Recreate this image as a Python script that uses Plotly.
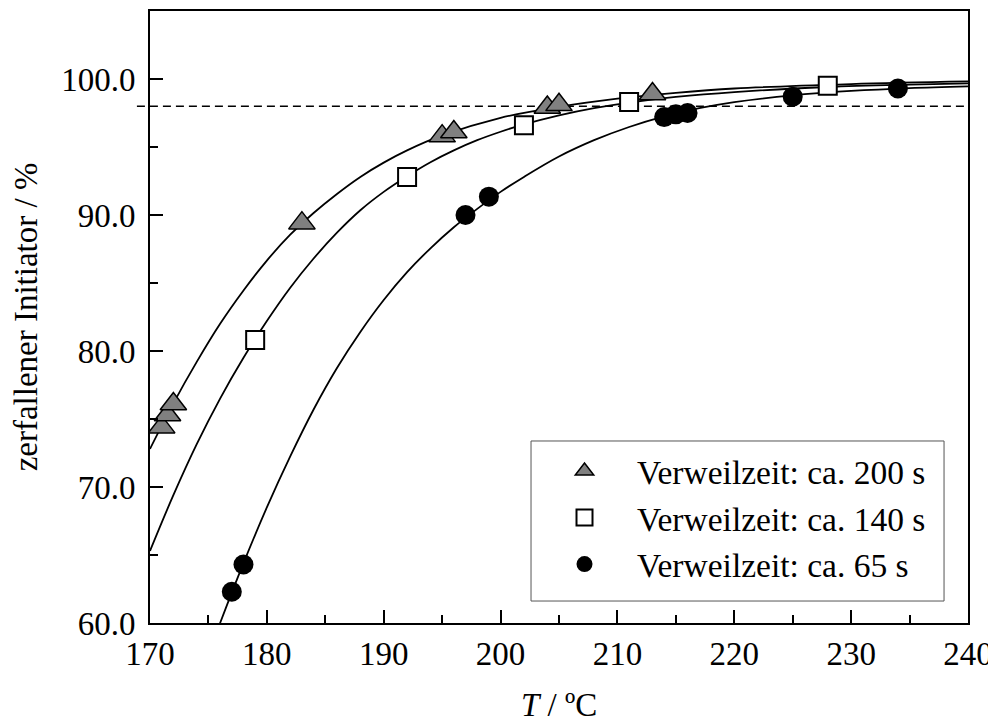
import plotly.graph_objects as go

T_200 = [171, 171.5, 172, 183, 195, 196, 204, 205, 213]
X_200 = [74.4, 75.3, 76.1, 89.4, 95.8, 96.1, 97.9, 98.1, 98.9]
T_140 = [179, 192, 202, 211, 228]
X_140 = [80.8, 92.8, 96.6, 98.3, 99.5]
T_65 = [177, 178, 197, 199, 214, 215, 216, 225, 234]
X_65 = [62.3, 64.3, 90.0, 91.35, 97.2, 97.4, 97.5, 98.7, 99.3]

# ---- fitted curves ----
TC_200 = [170, 172, 174, 176, 178, 180, 182, 184, 186, 188, 190, 192, 195, 200, 205, 210, 215, 220, 230, 240]
XC_200 = [72.8, 76.15, 79.2, 82.0, 84.45, 86.65, 88.55, 90.15, 91.55, 92.8, 93.85, 94.75, 95.85, 97.15,
          97.95, 98.55, 98.98, 99.3, 99.63, 99.82]
TC_140 = [170, 172, 174, 176, 178, 180, 182, 184, 186, 188, 190, 192, 194, 196, 198, 200, 202, 205, 208,
          211, 215, 220, 228, 235, 240]
XC_140 = [65.3, 69.4, 73.15, 76.5, 79.5, 82.2, 84.65, 86.8, 88.7, 90.35, 91.7, 92.85, 93.88, 94.75, 95.5,
          96.12, 96.66, 97.33, 97.86, 98.27, 98.68, 99.04, 99.41, 99.59, 99.68]
TC_65 = [175, 176, 178, 180, 182, 184, 186, 188, 190, 192, 194, 196, 198, 200, 202, 205, 208, 211, 214,
         217, 220, 225, 230, 235, 240]
XC_65 = [57.7, 60.0, 64.4, 68.5, 72.25, 75.7, 78.75, 81.4, 83.75, 85.8, 87.55, 89.1, 90.45, 91.7, 92.8,
         94.3, 95.5, 96.47, 97.25, 97.85, 98.3, 98.8, 99.12, 99.33, 99.46]

LIMIT = 98.0
LABELS = ["Verweilzeit: ca. 200 s", "Verweilzeit: ca. 140 s", "Verweilzeit: ca. 65 s"]
X_TITLE = "<i>T</i> / ºC"
Y_TITLE = "zerfallener Initiator / %"

FONT = "Liberation Serif, Times New Roman, serif"
FS = 33

fig = go.Figure()

for tc, xc in [(TC_200, XC_200), (TC_140, XC_140), (TC_65, XC_65)]:
    fig.add_trace(go.Scatter(x=tc, y=xc, mode="lines", showlegend=False,
                             line=dict(color="black", width=1.8, shape="spline", smoothing=1.0),
                             hoverinfo="skip"))

fig.add_trace(go.Scatter(x=T_200, y=X_200, mode="markers", name=LABELS[0],
                         marker=dict(symbol="triangle-up", size=23, color="#808080",
                                     line=dict(color="black", width=1.5))))
fig.add_trace(go.Scatter(x=T_140, y=X_140, mode="markers", name=LABELS[1],
                         marker=dict(symbol="square", size=18, color="white",
                                     line=dict(color="black", width=2))))
fig.add_trace(go.Scatter(x=T_65, y=X_65, mode="markers", name=LABELS[2],
                         marker=dict(symbol="circle", size=20, color="black",
                                     line=dict(color="black", width=0))))

# dashed 98 % line
fig.add_shape(type="line", xref="paper", yref="y", x0=-0.016, x1=1, y0=LIMIT, y1=LIMIT,
              line=dict(color="black", width=1.5, dash="8px,5px"), layer="below")
# legend frame
fig.add_shape(type="rect", xref="paper", yref="paper", x0=0.4658, x1=0.9707, y0=0.0359, y1=0.2974,
              line=dict(color="#555555", width=1), fillcolor="white", layer="below")

# x-axis title as text annotation
fig.add_annotation(text=X_TITLE, xref="paper", yref="paper", x=0.5, y=-0.134,
                   xanchor="center", yanchor="middle", showarrow=False,
                   font=dict(family=FONT, size=FS, color="black"))

axis_common = dict(showgrid=False, zeroline=False, showline=True, linecolor="black", linewidth=2,
                   mirror=True, ticks="inside", ticklen=13, tickwidth=2, tickcolor="black",
                   automargin=False,
                   tickfont=dict(family=FONT, size=FS, color="black"))

fig.update_xaxes(range=[170, 240], dtick=10, tick0=170,
                 minor=dict(dtick=5, ticks="inside", ticklen=8, tickwidth=2, tickcolor="black", showgrid=False),
                 **axis_common)
fig.update_yaxes(range=[60, 105], dtick=10, tick0=60, tickformat=".1f",
                 minor=dict(dtick=5, ticks="inside", ticklen=8, tickwidth=2, tickcolor="black", showgrid=False),
                 title=dict(text=Y_TITLE, font=dict(family=FONT, size=FS, color="black"), standoff=14),
                 ticklabelstandoff=6,
                 **axis_common)

fig.update_layout(
    template="none",
    width=988, height=714,
    margin=dict(l=142, r=28, t=3, b=99),
    paper_bgcolor="white", plot_bgcolor="white",
    font=dict(family=FONT, size=FS, color="black"),
    legend=dict(x=0.467, xanchor="left", y=0.2946, yanchor="top",
                bgcolor="rgba(0,0,0,0)", borderwidth=0,
                itemwidth=95, tracegroupgap=0,
                font=dict(family=FONT, size=33.5, color="black")),
)

fig.write_html("out.html")
